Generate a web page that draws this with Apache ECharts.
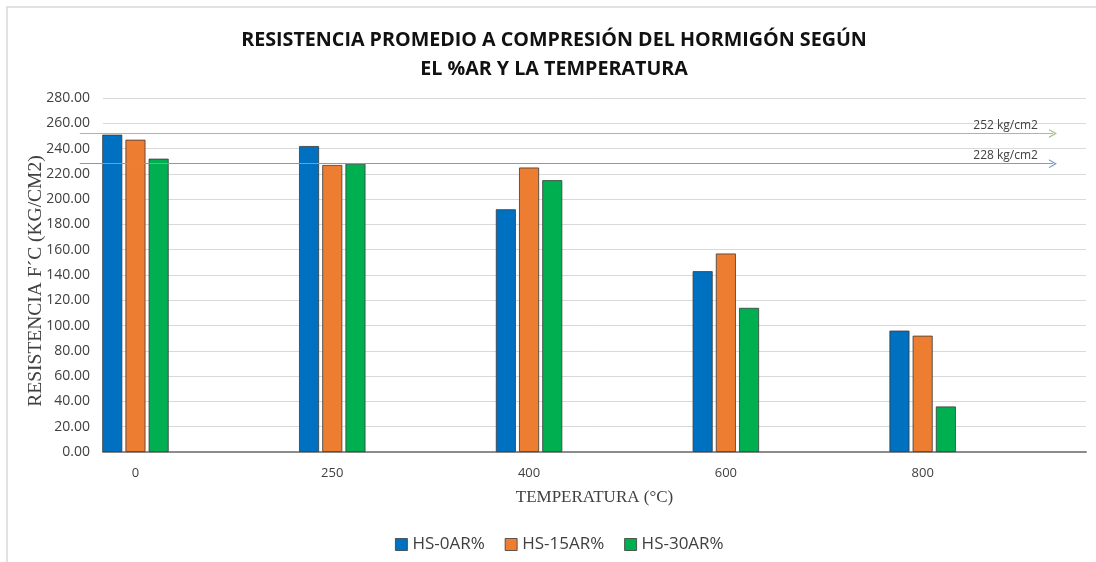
<!DOCTYPE html>
<html>
<head>
<meta charset="utf-8">
<script src="https://cdn.jsdelivr.net/npm/echarts@6/dist/echarts.min.js"></script>
<style>
  html, body { margin: 0; padding: 0; background: #fff; }
  #chart { width: 1096px; height: 562px; }
</style>
</head>
<body>
<div id="chart"></div>
<script>
// Temperatures tested (°C) and average compressive strength (kg/cm2)
const temperatures = ['0', '250', '400', '600', '800'];
const seriesNames = ['HS-0AR%', 'HS-15AR%', 'HS-30AR%'];
const hs0 = [251, 242, 192, 143, 96];
const hs15 = [247, 227, 225, 157, 92];
const hs30 = [232, 228, 215, 114, 36];
// Reference strength levels drawn as arrows
const refLevels = [252, 228];
const refLabels = ['252 kg/cm2', '228 kg/cm2'];

const colors = ['#0070C0', '#ED7D31', '#00B050'];
const refColors = ['#A6BF8A', '#7C9ACB'];

// the category positions sit on a value axis so the plot edge hugs the first group
const xMin = -0.165, xMax = 4.83, refEnd = 4.78;

const chevron = 'path://M5,0 L10,10 L8.5,10 L5,3 L1.5,10 L0,10 Z';

function toPairs(vals) {
  return vals.map((v, i) => [i, v]);
}

const chart = echarts.init(document.getElementById('chart'));
const seriesData = [hs0, hs15, hs30];

const series = seriesData.map((vals, k) => ({
  name: seriesNames[k],
  type: 'bar',
  data: toPairs(vals),
  barWidth: 20,
  barGap: '16%',
  itemStyle: { color: colors[k], borderColor: '#3a3a3a', borderWidth: 0.8 },
  emphasis: { disabled: true }
}));

series[0].markLine = {
  silent: true,
  symbol: ['none', chevron],
  symbolSize: [9, 8],
  data: refLevels.map((lv, i) => [
    { xAxis: xMin, yAxis: lv, lineStyle: { color: refColors[i], width: 1.2, type: 'solid' },
      label: { show: true, position: 'insideEndTop', formatter: refLabels[i],
               color: '#404040', fontSize: 12, fontFamily: 'Open Sans', distance: [15, 2] } },
    { xAxis: refEnd, yAxis: lv }
  ])
};

chart.setOption({
  animation: false,
  backgroundColor: '#fff',
  title: {
    text: 'RESISTENCIA PROMEDIO A COMPRESIÓN DEL HORMIGÓN SEGÚN\nEL %AR Y LA TEMPERATURA',
    left: 549, top: 21, textAlign: 'center',
    textStyle: { fontFamily: 'Open Sans', fontWeight: 'bold', fontSize: 19.7, lineHeight: 29, color: '#111' }
  },
  graphic: [{
    type: 'rect', silent: true, z: -1,
    shape: { x: 7, y: 7, width: 1100, height: 600 },
    style: { fill: 'none', stroke: '#d9d9d9', lineWidth: 1.5 }
  }],
  legend: {
    left: 390, top: 531,
    itemWidth: 12, itemHeight: 12, itemGap: 20,
    icon: 'rect',
    itemStyle: { borderColor: '#3a3a3a', borderWidth: 0.8 },
    textStyle: { fontFamily: 'Open Sans', fontSize: 17, color: '#404040' },
    data: seriesNames
  },
  grid: { left: 103, right: 10, top: 98, bottom: 110, containLabel: false },
  xAxis: {
    type: 'value', min: xMin, max: xMax,
    name: 'TEMPERATURA (°C)', nameLocation: 'middle', nameGap: 37,
    nameTextStyle: { fontFamily: 'Liberation Serif', fontSize: 17, color: '#404040' },
    axisLine: { show: true, onZero: false, lineStyle: { color: '#8c8c8c', width: 2 } },
    axisTick: { show: false },
    splitLine: { show: false },
    axisLabel: {
      customValues: [0, 1, 2, 3, 4],
      formatter: v => temperatures[Math.round(v)],
      margin: 15, fontFamily: 'Open Sans', fontSize: 13, color: '#404040'
    }
  },
  yAxis: {
    type: 'value', min: 0, max: 280, interval: 20,
    name: 'RESISTENCIA F´C (KG/CM2)', nameLocation: 'middle', nameGap: 57,
    nameMoveOverlap: false,
    nameTextStyle: { fontFamily: 'Liberation Serif', fontSize: 19.5, color: '#404040', padding: [0, 12, 0, 0] },
    axisLine: { show: false },
    axisTick: { show: false },
    splitLine: { lineStyle: { color: '#d9d9d9', width: 1 } },
    axisLabel: {
      formatter: v => v.toFixed(2),
      margin: 13, fontFamily: 'Open Sans', fontSize: 14, color: '#404040'
    }
  },
  series: series
});
</script>
</body>
</html>
